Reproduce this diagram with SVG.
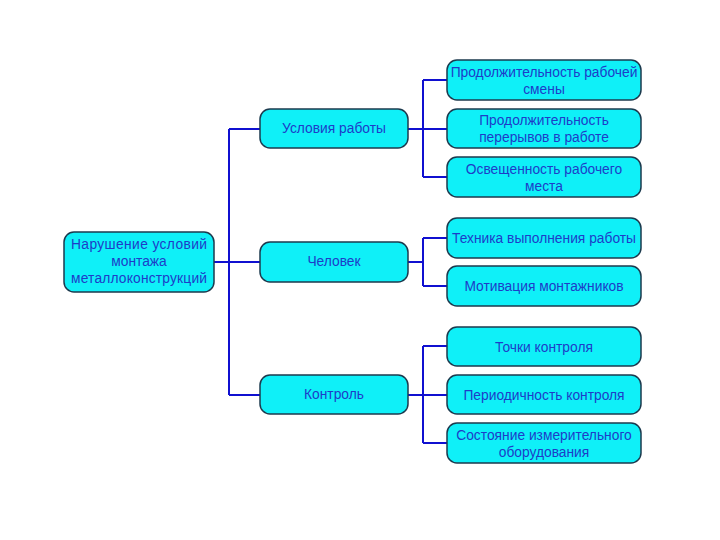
<svg xmlns="http://www.w3.org/2000/svg" width="720" height="540" viewBox="0 0 720 540">
<style>
.n{fill:#0ff0f8;stroke:#1c3a4e;stroke-width:1.5}
.t{font-family:"Liberation Sans",Arial,sans-serif;font-size:13.8px;fill:#1e3cc8;text-anchor:middle}
.c{fill:none;stroke:#1010d0;stroke-width:2}
</style>
<rect width="720" height="540" fill="#fff"/>
<g id="connectors" class="c">
<path d="M214,262H260M229,129V395M229,129H260M229,395H260"/>
<path d="M408,129H447M423,80V177M423,80H447M423,177H447"/>
<path d="M408,262H423M423,238V286M423,238H447M423,286H447"/>
<path d="M408,395H447M423,346V443M423,346H447M423,443H447"/>
</g>
<g id="root"><rect class="n" x="64" y="232" width="150" height="60" rx="10"/>
<text class="t" x="139" y="249" textLength="136">Нарушение условий</text><text class="t" x="139" y="266">монтажа</text><text class="t" x="139" y="283" textLength="136">металлоконструкций</text></g>
<g id="m1"><rect class="n" x="260" y="109" width="148" height="39" rx="10"/><text class="t" x="334" y="133">Условия работы</text></g>
<g id="m2"><rect class="n" x="260" y="242" width="148" height="40" rx="10"/><text class="t" x="334" y="266">Человек</text></g>
<g id="m3"><rect class="n" x="260" y="375" width="148" height="39" rx="10"/><text class="t" x="334" y="399">Контроль</text></g>
<g id="l1"><rect class="n" x="447" y="60" width="194" height="40" rx="10"/><text class="t" x="544" y="77">Продолжительность рабочей</text><text class="t" x="544" y="94">смены</text></g>
<g id="l2"><rect class="n" x="447" y="109" width="194" height="39" rx="10"/><text class="t" x="544" y="125">Продолжительность</text><text class="t" x="544" y="142">перерывов в работе</text></g>
<g id="l3"><rect class="n" x="447" y="157" width="194" height="40" rx="10"/><text class="t" x="544" y="174">Освещенность рабочего</text><text class="t" x="544" y="191">места</text></g>
<g id="l4"><rect class="n" x="447" y="218" width="194" height="40" rx="10"/><text class="t" x="544" y="243">Техника выполнения работы</text></g>
<g id="l5"><rect class="n" x="447" y="266" width="194" height="40" rx="10"/><text class="t" x="544" y="291">Мотивация монтажников</text></g>
<g id="l6"><rect class="n" x="447" y="327" width="194" height="39" rx="10"/><text class="t" x="544" y="352">Точки контроля</text></g>
<g id="l7"><rect class="n" x="447" y="375" width="194" height="39" rx="10"/><text class="t" x="544" y="400">Периодичность контроля</text></g>
<g id="l8"><rect class="n" x="447" y="423" width="194" height="40" rx="10"/><text class="t" x="544" y="440">Состояние измерительного</text><text class="t" x="544" y="457">оборудования</text></g>
</svg>
